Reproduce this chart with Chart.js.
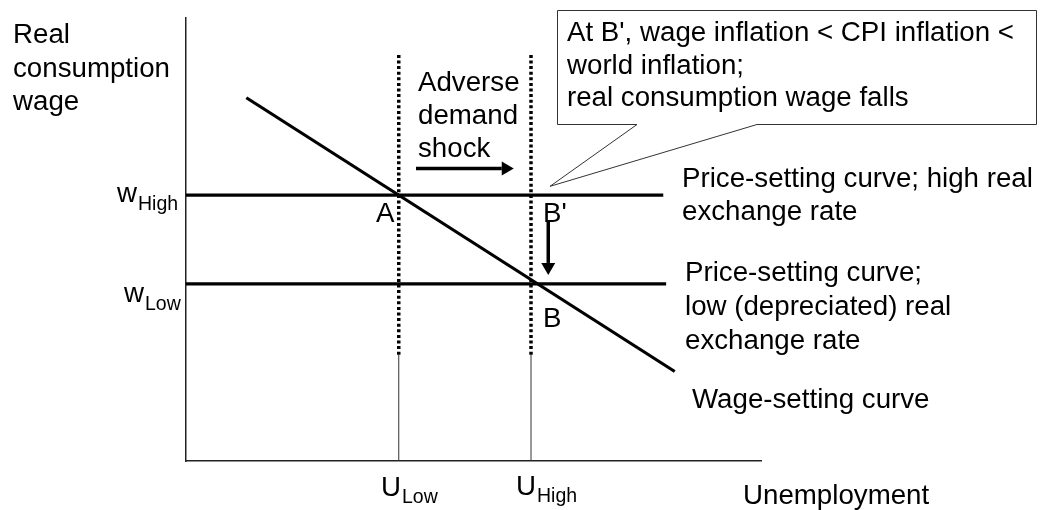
<!DOCTYPE html>
<html>
<head>
<meta charset="utf-8">
<script src="https://cdn.jsdelivr.net/npm/chart.js@4.4.1/dist/chart.umd.min.js"></script>
<style>
  html, body { margin: 0; padding: 0; background: #fff; }
  #wrap { width: 1041px; height: 510px; }
</style>
</head>
<body>
<div id="wrap"><canvas id="chart" width="1041" height="510"></canvas></div>
<script>
// data (axis units 0..100 both ways)
var unempLevels = [37, 60];        // U_Low, U_High
var wageLevels = [60, 40];         // w_High, w_Low
var priceCurveEnd = [83, 83.5];    // where the price-setting lines stop
var wageCurveX = [10.5, 85];
var wageCurveY = [82, 20.2];
var shockRange = [24, 92];         // dotted part of the vertical lines
var shockArrowX = [40, 57];
var shockArrowY = 66;
var fallArrowX = 63;
var fallArrowY = [54, 42];
var calloutTip = [63.3, 62];

var FONT = '"Liberation Sans", Arial, sans-serif';
var SIZE = '27.7px ';

function seg(x0, y0, x1, y1) {
    return [{x: x0, y: y0}, {x: x1, y: y1}];
}

var datasets = [];
// price-setting curves
wageLevels.forEach(function (w, i) {
    datasets.push({ data: seg(0, w, priceCurveEnd[i], w), borderWidth: 3.2 });
});
// wage-setting curve
datasets.push({ data: seg(wageCurveX[0], wageCurveY[0], wageCurveX[1], wageCurveY[1]), borderWidth: 3.2 });
// vertical lines at U_Low / U_High
unempLevels.forEach(function (u) {
    datasets.push({ data: seg(u, 0, u, shockRange[0]), borderWidth: 1, borderColor: '#333' });
    datasets.push({ data: seg(u, shockRange[0], u, shockRange[1]), borderWidth: 3.5, borderDash: [3, 2.6] });
});
datasets.forEach(function (d) {
    d.showLine = true;
    d.pointRadius = 0;
    d.borderColor = d.borderColor || '#000';
    d.borderCapStyle = 'butt';
});

function arrow(ctx, x0, y0, x1, y1) {
    var ang = Math.atan2(y1 - y0, x1 - x0);
    var head = 12, half = 7;
    var bx = x1 - head * Math.cos(ang), by = y1 - head * Math.sin(ang);
    ctx.beginPath();
    ctx.lineWidth = 3.5;
    ctx.moveTo(x0, y0);
    ctx.lineTo(bx, by);
    ctx.stroke();
    ctx.beginPath();
    ctx.moveTo(x1, y1);
    ctx.lineTo(bx + half * Math.sin(ang), by - half * Math.cos(ang));
    ctx.lineTo(bx - half * Math.sin(ang), by + half * Math.cos(ang));
    ctx.closePath();
    ctx.fill();
}

function lines(ctx, arr, x, y, step) {
    arr.forEach(function (t, i) { ctx.fillText(t, x, y + i * step); });
}

function sub(ctx, main, s, x, y, dy) {
    ctx.font = SIZE + FONT;
    ctx.fillText(main, x, y);
    var w = ctx.measureText(main).width;
    ctx.font = '19.5px ' + FONT;
    ctx.fillText(s, x + w + 1, y + dy);
}

var notesPlugin = {
    id: 'notes',
    afterDraw: function (chart) {
        var ctx = chart.ctx;
        var xs = chart.scales.x, ys = chart.scales.y;
        ctx.save();
        ctx.fillStyle = '#000';
        ctx.strokeStyle = '#000';
        ctx.textBaseline = 'alphabetic';
        ctx.textAlign = 'left';

        // arrows
        arrow(ctx, xs.getPixelForValue(shockArrowX[0]), ys.getPixelForValue(shockArrowY),
              xs.getPixelForValue(shockArrowX[1]), ys.getPixelForValue(shockArrowY));
        arrow(ctx, xs.getPixelForValue(fallArrowX), ys.getPixelForValue(fallArrowY[0]),
              xs.getPixelForValue(fallArrowX), ys.getPixelForValue(fallArrowY[1]));

        // callout box
        var tx = xs.getPixelForValue(calloutTip[0]), ty = ys.getPixelForValue(calloutTip[1]);
        ctx.beginPath();
        ctx.lineWidth = 1;
        ctx.strokeStyle = '#333';
        ctx.moveTo(557.5, 10.5);
        ctx.lineTo(1036.5, 10.5);
        ctx.lineTo(1036.5, 124.5);
        ctx.lineTo(757, 124.5);
        ctx.lineTo(tx, ty);
        ctx.lineTo(637, 124.5);
        ctx.lineTo(557.5, 124.5);
        ctx.closePath();
        ctx.fillStyle = '#fff';
        ctx.fill();
        ctx.stroke();
        ctx.fillStyle = '#000';

        ctx.font = SIZE + FONT;
        lines(ctx, ["At B', wage inflation < CPI inflation <", 'world inflation;', 'real consumption wage falls'], 567, 41, 32.5);
        lines(ctx, ['Real', 'consumption', 'wage'], 13, 43, 33.5);
        lines(ctx, ['Adverse', 'demand', 'shock'], 418, 91, 33);
        lines(ctx, ['Price-setting curve; high real', 'exchange rate'], 682, 187, 33);
        lines(ctx, ['Price-setting curve;', 'low (depreciated) real', 'exchange rate'], 685, 281, 34);
        ctx.fillText('Wage-setting curve', 692, 408);
        ctx.fillText('Unemployment', 743, 504);
        ctx.fillText('A', 376, 222);
        ctx.fillText("B'", 543, 222);
        ctx.fillText('B', 543, 327);

        sub(ctx, 'w', 'High', 117, 202, 8);
        sub(ctx, 'w', 'Low', 124, 302, 8);
        sub(ctx, 'U', 'Low', 381, 496, 7);
        sub(ctx, 'U', 'High', 516, 495, 7);
        ctx.restore();
    }
};

var hidden = {
    type: 'linear',
    min: 0,
    max: 100,
    ticks: { display: false },
    grid: { display: false, drawTicks: false },
    border: { display: true, color: '#222', width: 1.5 }
};

new Chart(document.getElementById('chart'), {
    type: 'scatter',
    data: { datasets: datasets },
    options: {
        responsive: false,
        animation: false,
        layout: { padding: { left: 186, right: 280, top: 18, bottom: 49 } },
        plugins: { legend: { display: false }, tooltip: { enabled: false } },
        scales: {
            x: Object.assign({}, hidden),
            y: Object.assign({}, hidden)
        }
    },
    plugins: [notesPlugin]
});
</script>
</body>
</html>
